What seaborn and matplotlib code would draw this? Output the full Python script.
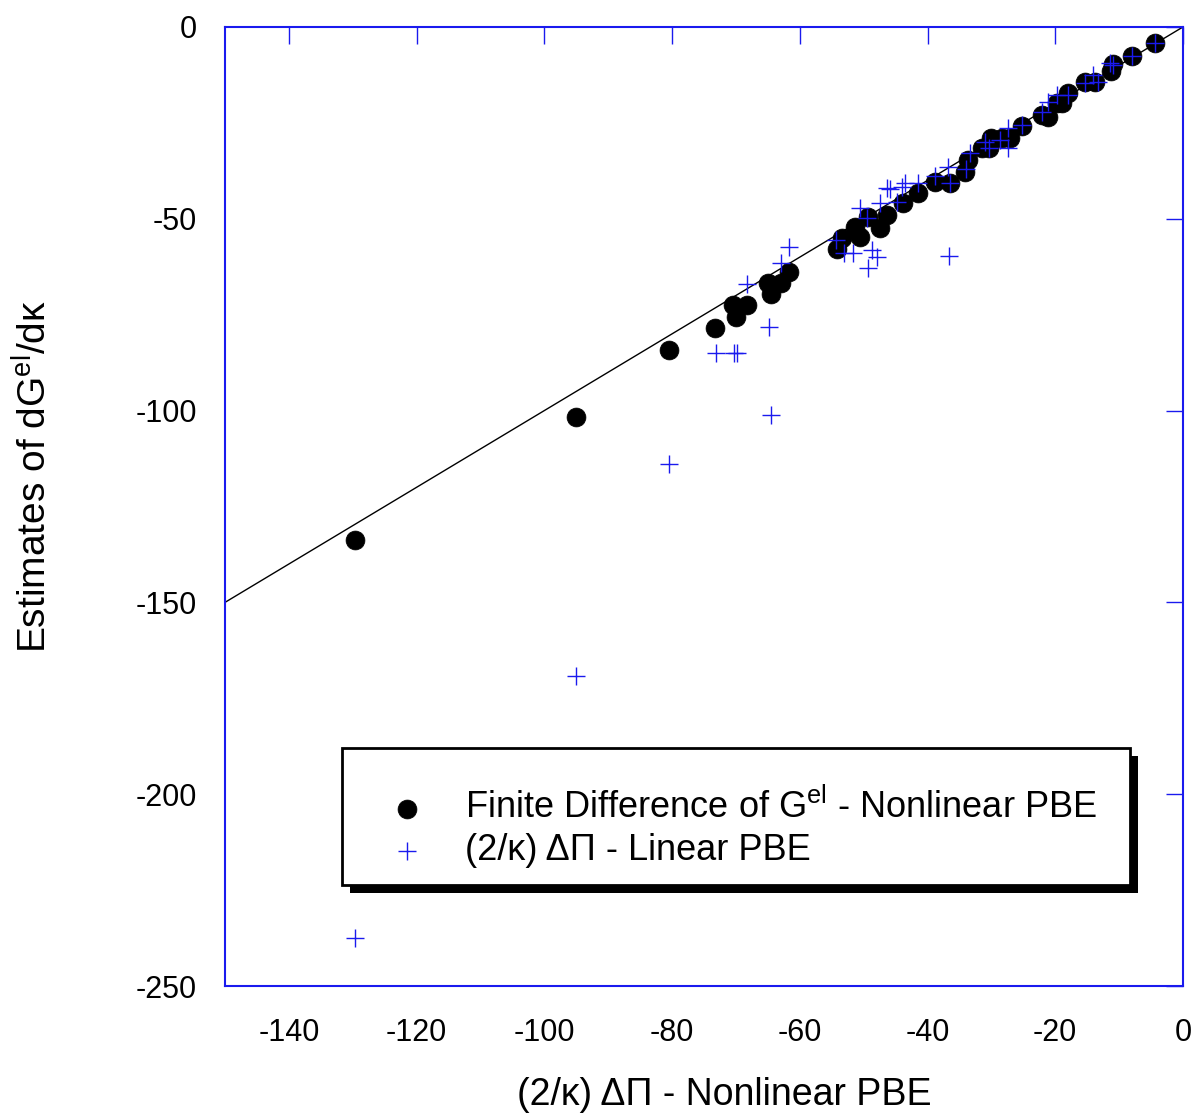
import numpy as np
import pandas as pd
import matplotlib
matplotlib.use('Agg')
import matplotlib.pyplot as plt
import seaborn as sns
from matplotlib.patches import Rectangle
from matplotlib.transforms import ScaledTranslation

# ---- data ----
fd_x = [-129.6, -95.0, -80.5, -73.3, -70.5, -68.3, -70.0, -64.5, -65.0, -62.9,
        -61.7, -54.2, -53.4, -51.4, -50.6, -49.3, -47.4, -46.3, -43.8, -41.5,
        -38.8, -36.5, -34.2, -33.7, -31.5, -30.4, -30.0, -28.4, -27.1, -25.2,
        -22.1, -21.1, -19.7, -18.9, -18.0, -15.3, -13.8, -11.3, -11.0, -8.0, -4.4]
fd_y = [-133.7, -101.7, -84.2, -78.5, -72.5, -72.5, -75.6, -69.6, -66.7, -66.7,
        -63.9, -57.9, -55.0, -52.1, -54.7, -49.5, -52.3, -49.0, -45.9, -43.3,
        -40.4, -40.7, -37.8, -34.7, -31.5, -31.5, -28.9, -28.9, -28.9, -25.8,
        -22.9, -23.5, -19.8, -19.8, -17.2, -14.3, -14.3, -11.5, -9.6, -7.6, -4.2]

lin_x = [-129.6, -95.0, -80.5, -64.5, -73.1, -70.3, -69.8, -64.8, -68.3, -62.9,
         -61.7, -54.4, -53.0, -51.7, -49.3, -48.7, -47.9, -36.6, -50.6, -49.5,
         -47.4, -46.3, -45.9, -44.0, -44.8, -43.5, -41.5, -38.8, -36.8, -36.5,
         -34.0, -33.4, -31.0, -30.4, -28.7, -27.4, -27.4, -25.2, -22.1, -21.1,
         -19.7, -18.0, -15.3, -14.1, -13.3, -11.4, -11.0, -8.0, -4.4]
lin_y = [-237.5, -169.2, -113.9, -101.1, -85.1, -85.1, -85.1, -78.2, -67.0, -61.5,
         -57.4, -55.5, -58.9, -58.9, -62.8, -58.2, -59.9, -59.7, -47.2, -49.8,
         -45.9, -42.0, -42.2, -41.7, -45.6, -40.7, -40.7, -38.8, -36.5, -40.7,
         -37.0, -32.8, -30.0, -31.5, -29.5, -26.3, -31.5, -25.5, -22.2, -19.6,
         -17.7, -17.7, -14.6, -12.5, -14.3, -9.4, -9.9, -7.6, -4.2]

diag = [-150, 0]

x_ticks = [-140, -120, -100, -80, -60, -40, -20, 0]
y_ticks = [0, -50, -100, -150, -200, -250]

# ---- style ----
sns.set_style('white')
plt.rcParams['font.family'] = ['Liberation Sans', 'DejaVu Sans']
plt.rcParams['mathtext.fontset'] = 'custom'
plt.rcParams['mathtext.rm'] = 'Liberation Sans'
plt.rcParams['mathtext.it'] = 'Liberation Sans:italic'
plt.rcParams['axes.unicode_minus'] = False
plt.rcParams['text.color'] = 'black'
plt.rcParams['axes.labelcolor'] = 'black'

BLUE = '#1a1aee'

fig = plt.figure(figsize=(11.93, 11.14), dpi=100)
ax = fig.add_axes([0.1886, 0.1149, 0.803, 0.8609])

sns.lineplot(x=diag, y=diag, color='black', linewidth=1.0, ax=ax, zorder=1)
sns.scatterplot(x=fd_x, y=fd_y, color='black', s=185, edgecolor='black',
                linewidth=0.5, ax=ax, zorder=2,
                label='Finite Difference of G$^{\\mathrm{el}}$ - Nonlinear PBE')
sns.scatterplot(x=lin_x, y=lin_y, color=BLUE, marker='+', s=180,
                linewidth=1.0, ax=ax, zorder=3,
                label='(2/κ) ΔΠ - Linear PBE')

ax.set_xlim(-150, 0)
ax.set_ylim(-250, 0)
ax.set_xticks(x_ticks)
ax.set_yticks(y_ticks)
ax.tick_params(direction='in', length=12, width=1, color=BLUE,
               labelcolor='black', top=True, right=True, labelsize=22)
ax.tick_params(axis='x', pad=23)
ax.tick_params(axis='y', pad=20)
for sp in ax.spines.values():
    sp.set_visible(True)
    sp.set_color(BLUE)
    sp.set_linewidth(1.5)

ax.set_xlabel('(2/κ) ΔΠ - Nonlinear PBE', fontsize=27)
ax.set_ylabel('Estimates of dG$^{\\mathrm{el}}$/dκ', fontsize=28)
ax.xaxis.set_label_coords(0.521, -0.095)
ax.yaxis.set_label_coords(-0.178, 0.531)

# legend box with drop shadow, drawn by hand so the padding can be uneven
box = (0.122, 0.105, 0.823, 0.143)
shadow_tr = ax.transAxes + ScaledTranslation(8 / 100, -8 / 100, fig.dpi_scale_trans)
ax.add_patch(Rectangle(box[:2], box[2], box[3], transform=shadow_tr,
                       facecolor='black', edgecolor='none', zorder=8, clip_on=False))
ax.add_patch(Rectangle(box[:2], box[2], box[3], transform=ax.transAxes,
                       facecolor='white', edgecolor='black', linewidth=2,
                       zorder=9, clip_on=False))

leg = ax.legend(loc='upper left', bbox_to_anchor=(0.1503, 0.2054),
                fontsize=26, frameon=False, borderpad=0, borderaxespad=0,
                handletextpad=0.55, handlelength=2.1, labelspacing=0.2)
leg.set_zorder(10)

fig.savefig('out.png', dpi=100)
